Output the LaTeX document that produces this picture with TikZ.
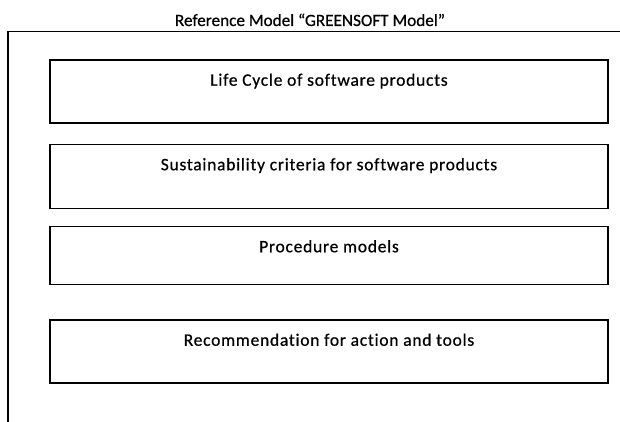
\documentclass[tikz,border=0pt]{standalone}
\usepackage{fontspec}
\setmainfont[FakeBold=0.6,AutoFakeBold=0]{Carlito}
\newfontfamily\layerfont[LetterSpace=4.3,FakeBold=0.6,Ligatures=NoCommon]{Carlito}
\newfontfamily\headfont[FakeBold=0.6,Ligatures=NoCommon]{Carlito}
\begin{document}
\begin{tikzpicture}[x=1pt,y=1pt,
  panel/.style={draw=black, line width=1.5pt, minimum width=558pt, inner sep=0pt},
  caption/.style={font=\layerfont\fontsize{17.5}{20}\selectfont, anchor=base, inner sep=0pt},
  heading/.style={font=\headfont\fontsize{17.2}{20}\selectfont, anchor=base, inner sep=0pt},
  frame/.style={line width=1.3pt}]
\useasboundingbox (0,0) rectangle (620,-422);
% title and open frame
\node[heading] (title) at (310,-26) {Reference Model “GREENSOFT Model”};
\coordinate (fb) at (8,-422);
\coordinate (fc) at (8,-31.5);
\coordinate (fr) at (620,-31.5);
\draw[frame] (fb) -- (fc) -- (fr);
% the four layers of the model
\node[panel, minimum height=63pt] (b1) at (329,-91.5) {};
\node[panel, minimum height=64pt] (b2) at (329,-176.5) {};
\node[panel, minimum height=58pt] (b3) at (329,-255.5) {};
\node[panel, minimum height=63pt] (b4) at (329,-351.5) {};
\node[caption] (t1) at ([yshift=-26.5pt]b1.north) {Life Cycle of software products};
\node[caption] (t2) at ([yshift=-26.5pt]b2.north) {Sustainability criteria for software products};
\node[caption] (t3) at ([yshift=-26.5pt]b3.north) {Procedure models};
\node[caption] (t4) at ([yshift=-26.5pt]b4.north) {Recommendation for action and tools};
\end{tikzpicture}
\end{document}
